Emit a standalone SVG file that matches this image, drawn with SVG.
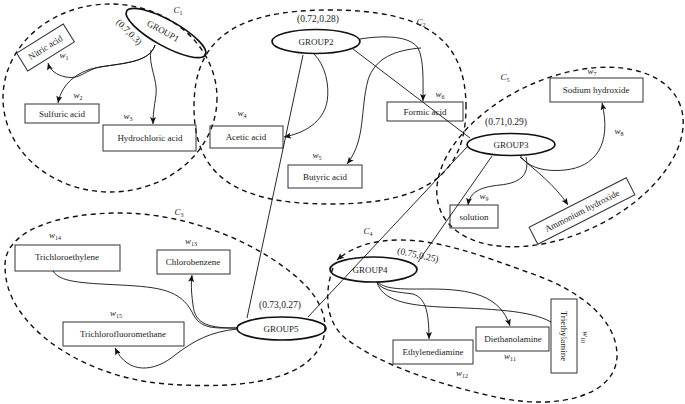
<svg xmlns="http://www.w3.org/2000/svg" width="685" height="404" viewBox="0 0 685 404">
<style>
text{font-family:"Liberation Serif","Times New Roman",serif;fill:#222;}
.lbl{font-size:9px;text-anchor:middle;}
.num{font-size:9.5px;text-anchor:middle;}
.w{font-size:9px;font-style:italic;text-anchor:middle;}
.sub{font-size:6px;font-style:normal;}
.c{font-size:9px;font-style:italic;text-anchor:middle;}
.box{fill:none;stroke:#333;stroke-width:1;}
.grp{fill:none;stroke:#111;stroke-width:1.7;}
.clu{fill:none;stroke:#111;stroke-width:1.4;stroke-dasharray:5,4;}
.e{fill:none;stroke:#111;stroke-width:0.9;}
.ea{fill:none;stroke:#111;stroke-width:0.9;marker-end:url(#ah);}
</style>
<defs>
<marker id="ah" markerUnits="userSpaceOnUse" markerWidth="8" markerHeight="6" refX="7" refY="3" orient="auto">
<path d="M0,0 L7,3 L0,6 L1.5,3 z" fill="#111"/>
</marker>
</defs>
<rect width="685" height="404" fill="#fff"/>

<g id="clusters">
<g id="C1"><ellipse class="clu" cx="110" cy="98" rx="107" ry="94"/><text class="c" x="178" y="13">C<tspan class="sub" dy="2">1</tspan></text></g>
<g id="C2"><path class="clu" d="M466,107 C466,39 425,10 330,10 C235,10 194,39 194,107 C194,175 235,204 330,204 C425,204 466,175 466,107 Z"/><text class="c" x="421" y="25">C<tspan class="sub" dy="2">2</tspan></text></g>
<g id="C5"><ellipse class="clu" cx="560" cy="157" rx="131" ry="78" transform="rotate(-25 560 157)"/><text class="c" x="505" y="80">C<tspan class="sub" dy="2">5</tspan></text></g>
<g id="C3"><path class="clu" d="M5,265 C5,232 55,213 120,213 C190,213 265,245 305,285 C330,310 335,345 300,367 C270,385 220,388 167,384 C110,380 60,355 33,327 C15,308 5,290 5,265 Z"/><text class="c" x="179" y="215">C<tspan class="sub" dy="2">3</tspan></text></g>
<g id="C4"><path class="clu" d="M333,268 C325,290 324,320 345,338 C380,365 440,385 500,398 C560,410 615,395 617,357 C618,320 580,290 530,273 C480,255 440,240 400,240 C372,240 352,247 337,260" marker-end="url(#ah)"/><text class="c" x="368" y="234">C<tspan class="sub" dy="2">4</tspan></text></g>
</g>

<g id="GROUP1"><ellipse class="grp" cx="166" cy="33" rx="45" ry="13" transform="rotate(29 166 33)"/><text class="lbl" x="163" y="34" transform="rotate(29 163 31)">GROUP1</text><text class="num" x="129" y="35" transform="rotate(45 129 32)">(0.7,0.3)</text></g>
<g id="NitricAcid"><rect class="box" x="18" y="37" width="55" height="21" transform="rotate(-32 45.5 47.5)"/><text class="lbl" x="45.5" y="50.5" transform="rotate(-32 45.5 47.5)">Nitric acid</text><text class="w" x="64" y="58">w<tspan class="sub" dy="2">1</tspan></text></g>
<g id="SulfuricAcid"><rect class="box" x="25" y="104" width="74" height="19"/><text class="lbl" x="62" y="117">Sulfuric acid</text><text class="w" x="78" y="98">w<tspan class="sub" dy="2">2</tspan></text></g>
<g id="HydrochloricAcid"><rect class="box" x="103" y="125" width="93" height="26"/><text class="lbl" x="150" y="141">Hydrochloric acid</text><text class="w" x="128" y="119">w<tspan class="sub" dy="2">3</tspan></text></g>

<g id="GROUP2"><ellipse class="grp" cx="316" cy="41.5" rx="44" ry="12"/><text class="lbl" x="316" y="45">GROUP2</text><text class="num" x="318" y="22">(0.72,0.28)</text></g>
<g id="AceticAcid"><rect class="box" x="210" y="126" width="73" height="22"/><text class="lbl" x="246" y="140">Acetic acid</text><text class="w" x="242" y="116">w<tspan class="sub" dy="2">4</tspan></text></g>
<g id="ButyricAcid"><rect class="box" x="288" y="165" width="74" height="23"/><text class="lbl" x="325" y="180">Butyric acid</text><text class="w" x="317" y="158">w<tspan class="sub" dy="2">5</tspan></text></g>
<g id="FormicAcid"><rect class="box" x="387" y="102" width="76" height="19"/><text class="lbl" x="425" y="115">Formic acid</text><text class="w" x="440" y="97">w<tspan class="sub" dy="2">6</tspan></text></g>

<g id="GROUP3"><ellipse class="grp" cx="511" cy="144.5" rx="44" ry="11"/><text class="lbl" x="511" y="148">GROUP3</text><text class="num" x="506" y="125">(0.71,0.29)</text></g>
<g id="SodiumHydroxide"><rect class="box" x="550" y="78" width="93" height="24"/><text class="lbl" x="596" y="93">Sodium hydroxide</text><text class="w" x="592" y="74">w<tspan class="sub" dy="2">7</tspan></text><text class="w" x="619" y="134">w<tspan class="sub" dy="2">8</tspan></text></g>
<g id="Solution"><rect class="box" x="450" y="205" width="48" height="23"/><text class="lbl" x="474" y="220">solution</text><text class="w" x="484" y="199">w<tspan class="sub" dy="2">9</tspan></text></g>
<g id="AmmoniumHydroxide"><rect class="box" x="527.5" y="201.5" width="109" height="19" transform="rotate(-27 582 211)"/><text class="lbl" x="582" y="214" transform="rotate(-27 582 211)">Ammonium hydroxide</text></g>

<g id="GROUP4"><ellipse class="grp" cx="373.5" cy="269.5" rx="43.5" ry="12.5"/><text class="lbl" x="370" y="273">GROUP4</text><text class="num" x="418" y="258" transform="rotate(12 418 255)">(0.75,0.25)</text></g>
<g id="Ethylenediamine"><rect class="box" x="393" y="340" width="80" height="24"/><text class="lbl" x="433" y="355">Ethylenediamine</text><text class="w" x="462" y="376">w<tspan class="sub" dy="2">12</tspan></text></g>
<g id="Diethanolamine"><rect class="box" x="476" y="327" width="73" height="24"/><text class="lbl" x="513" y="342">Diethanolamine</text><text class="w" x="510" y="359">w<tspan class="sub" dy="2">11</tspan></text></g>
<g id="Triethylamine"><rect class="box" x="551" y="299" width="26" height="74"/><text class="lbl" x="564" y="339" transform="rotate(90 564 336)">Triethylamine</text><text class="w" x="584" y="340" transform="rotate(90 585 338)">w<tspan class="sub" dy="2">10</tspan></text></g>

<g id="GROUP5"><ellipse class="grp" cx="281.5" cy="328.5" rx="44.5" ry="11.5"/><text class="lbl" x="281" y="332">GROUP5</text><text class="num" x="280" y="308">(0.73,0.27)</text></g>
<g id="Trichloroethylene"><rect class="box" x="15" y="245" width="105" height="26"/><text class="lbl" x="67" y="260">Trichloroethylene</text><text class="w" x="55" y="238">w<tspan class="sub" dy="2">14</tspan></text></g>
<g id="Chlorobenzene"><rect class="box" x="157" y="250" width="73" height="24"/><text class="lbl" x="193" y="265">Chlorobenzene</text><text class="w" x="191" y="244">w<tspan class="sub" dy="2">13</tspan></text></g>
<g id="Trichlorofluoromethane"><rect class="box" x="63" y="322" width="121" height="24"/><text class="lbl" x="123" y="337">Trichlorofluoromethane</text><text class="w" x="116" y="316">w<tspan class="sub" dy="2">15</tspan></text></g>

<g id="connectors">
<path class="ea" d="M155,45 C150,62 125,63 100,67 C85,70 80,80 66,77 C56,75 50,70 48,63"/>
<path class="ea" d="M155,45 C150,62 125,63 100,67 C80,70 62,82 58,103"/>
<path class="ea" d="M151,50 C148,65 158,80 156,95 C154,108 153,115 153,124"/>
<path class="ea" d="M314,54 C325,65 330,85 327,102 C323,122 305,133 284,137"/>
<path class="ea" d="M360,39 C385,35 410,36 418,48 C424,60 423,80 423,101"/>
<path class="ea" d="M421,48 C395,50 375,58 368,80 C360,110 366,140 347,164"/>
<line class="e" x1="303" y1="55" x2="247" y2="318"/>
<line class="e" x1="353" y1="49" x2="470" y2="138"/>
<line class="e" x1="492" y1="156" x2="418" y2="262"/>
<line class="e" x1="467" y1="147" x2="308" y2="317"/>
<path class="ea" d="M520,155 C528,168 545,172 565,170 C595,167 612,145 602,103"/>
<path class="ea" d="M520,157 C535,170 555,185 568,205"/>
<path class="ea" d="M526,157 C530,175 520,183 500,185 C480,187 470,192 468,205"/>
<path class="ea" d="M377,282 C382,292 400,292 413,294 C425,298 429,310 429,339"/>
<path class="ea" d="M378,282 C385,290 405,289 430,289 C470,289 500,295 510,326"/>
<path class="e" d="M377,282 C382,300 405,305 440,307 C490,309 530,310 551,322"/>
<path class="e" d="M237,328 C215,328 200,330 192,312 C180,290 160,287 120,285 C80,283 60,282 53,271"/>
<path class="ea" d="M237,328 C210,328 195,325 193,305 C191,290 191,283 192,275"/>
<path class="ea" d="M237,329 C210,332 195,340 175,355 C155,372 128,375 115,348"/>
</g>
</svg>
